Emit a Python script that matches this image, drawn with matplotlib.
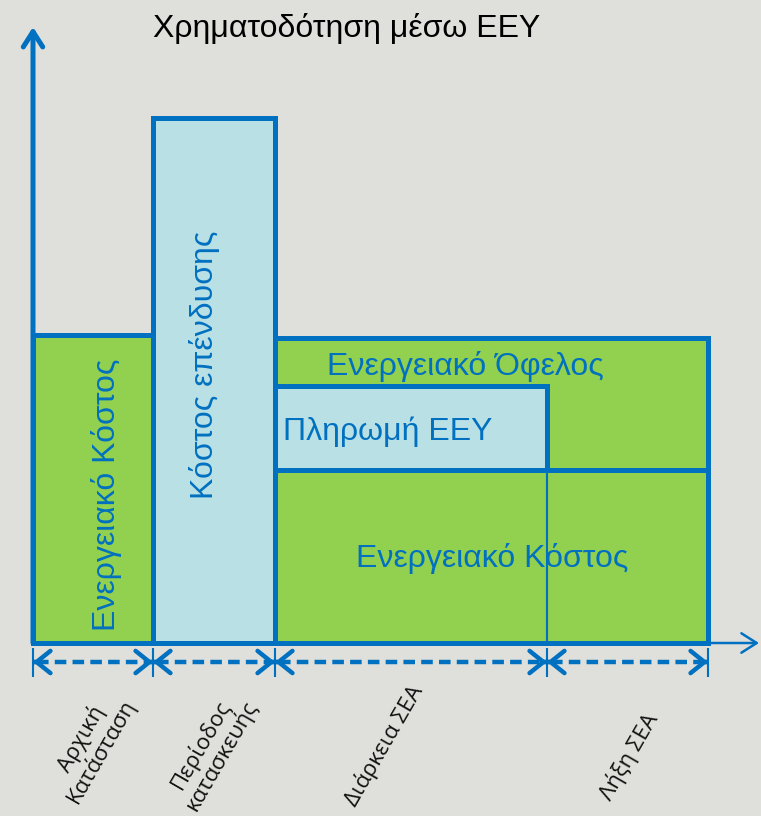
import numpy as np
import matplotlib.pyplot as plt

# phase boundaries along the time axis (origin = start of "Αρχική Κατάσταση")
phase_edges = [0, 120, 242, 514, 675]
phase_labels = ["Αρχική\nΚατάσταση", "Περίοδος\nκατασκευής", "Διάρκεια ΣΕΑ", "Λήξη ΣΕΑ"]

# bar heights (arbitrary units)
initial_cost = 308
investment_cost = 525
total_after = 305
payment_low = 173
payment_high = 257

blue = "#0070c0"
green = "#92d050"
light = "#b9e0e4"
bg = "#dfdfdb"

fig = plt.figure(figsize=(7.61, 8.16), dpi=100)
fig.patch.set_facecolor(bg)
ax = fig.add_axes([0, 0, 1, 1])
ax.set_facecolor(bg)
ax.set_xlim(-33, 728)
ax.set_ylim(-173, 643)
ax.axis("off")

lw = 3.6
x0, x1, x2, x3, x4 = phase_edges

# initial state and construction bars
ax.bar(x0, initial_cost, width=x1 - x0, align="edge", color=green, edgecolor=blue, lw=lw, zorder=2)
ax.bar(x1, investment_cost, width=x2 - x1, align="edge", color=light, edgecolor=blue, lw=lw, zorder=2)
# operation period
ax.bar(x2, total_after, width=x4 - x2, align="edge", color=green, edgecolor=blue, lw=lw, zorder=2)
ax.bar(x2, payment_high - payment_low, bottom=payment_low, width=x3 - x2, align="edge",
       color=light, edgecolor=blue, lw=lw, zorder=3)
ax.hlines(payment_low, x2, x4, color=blue, lw=lw, zorder=4)
ax.vlines(x3, 0, payment_low, color=blue, lw=1.5, zorder=4)

# axes arrows
ax.annotate("", xy=(0, 616), xytext=(0, 0),
            arrowprops=dict(arrowstyle="->,head_length=1.1,head_width=0.7", lw=3.6, color=blue,
                            shrinkA=0, shrinkB=0, mutation_scale=10), zorder=5)
ax.annotate("", xy=(726, 0), xytext=(0, 0),
            arrowprops=dict(arrowstyle="->,head_length=1.1,head_width=0.7", lw=1.8, color=blue,
                            shrinkA=0, shrinkB=0, mutation_scale=10), zorder=1)
ax.hlines(0, x0, x4, color=blue, lw=lw, zorder=5)

# phase dimension arrows
ya = -19
ax.vlines(phase_edges, -5, -34, color=blue, lw=1.5)
for a, b in zip(phase_edges[:-1], phase_edges[1:]):
    ax.plot([a + 4, b - 4], [ya, ya], color=blue, lw=3.2, ls=(0, (2.6, 1.4)))
    for tip, tail in ((a, a + 2), (b, b - 2)):
        ax.annotate("", xy=(tip, ya), xytext=(tail, ya),
                    arrowprops=dict(arrowstyle="->,head_length=1.0,head_width=0.8", lw=3.2,
                                    color=blue, shrinkA=0, shrinkB=0, mutation_scale=10))

# text
tf = "Liberation Sans"
fs = 23
ax.text(314, 615, "Χρηματοδότηση μέσω ΕΕΥ", fontsize=fs, family=tf, ha="center", va="center", color="black")
ax.text(74, 148, "Ενεργειακό Κόστος", fontsize=fs, family=tf, rotation=90, ha="center", va="center", color=blue, zorder=6)
ax.text(172, 278, "Κόστος επένδυσης", fontsize=fs, family=tf, rotation=90, ha="center", va="center", color=blue, zorder=6)
ax.text(432, 276, "Ενεργειακό Όφελος", fontsize=fs, family=tf, ha="center", va="center", color=blue, zorder=6)
ax.text(250, 211, "Πληρωμή ΕΕΥ", fontsize=fs, family=tf, ha="left", va="center", color=blue, zorder=6)
ax.text(459, 85, "Ενεργειακό Κόστος", fontsize=fs, family=tf, ha="center", va="center", color=blue, zorder=6)

label_pos = [(58, -102), (178, -107), (351, -103), (596, -114)]
for (lx, ly), lab in zip(label_pos, phase_labels):
    ax.text(lx, ly, lab, fontsize=16, family="Open Sans", rotation=60,
            ha="center", va="center", color="#111111", linespacing=1.0)

fig.savefig("out.png", dpi=100, facecolor=bg)
